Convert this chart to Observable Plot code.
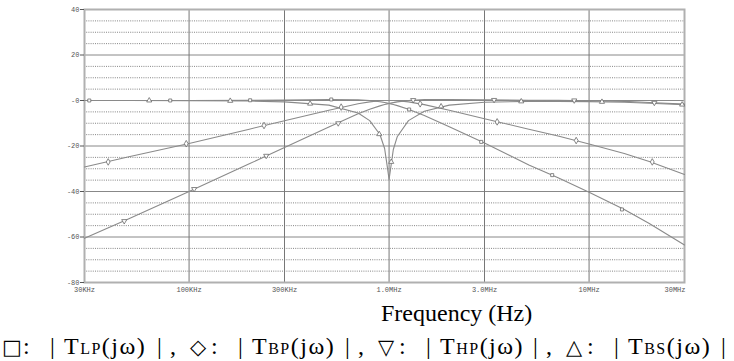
<!DOCTYPE html>
<html><head><meta charset="utf-8">
<script src="https://cdn.jsdelivr.net/npm/d3@7"></script>
<script src="https://cdn.jsdelivr.net/npm/@observablehq/plot@0.6"></script>
<style>
body{margin:0;background:#fff;position:relative;width:734px;height:361px;overflow:hidden;}
#chart svg{display:block;}
.cap{position:absolute;font-family:"Liberation Serif","Times New Roman",serif;color:#000;white-space:nowrap;font-size:24px;line-height:24px;}
.cap .s{font-size:16px;}
.sym{font-family:"DejaVu Sans",sans-serif;font-size:21px;}
</style></head>
<body>
<div id="chart"></div>
<div id="freq" class="cap" style="left:381px;top:301px;">Frequency (Hz)</div>
<div id="legend"></div>
<script>
// frequency samples (Hz) and magnitudes (dB)
const freqs = [30e3, 50e3, 100e3, 200e3, 300e3, 500e3, 700e3, 800e3, 900e3, 950e3, 980e3, 1e6, 1.02e6, 1.05e6, 1.1e6, 1.25e6, 1.5e6, 2e6, 3e6, 5e6, 7e6, 10e6, 15e6, 20e6, 30e6];
const lpDb = [0, 0, 0.03, 0.11, 0.22, 0.45, 0.35, 0.02, -0.54, -0.9, -1.14, -1.31, -1.49, -1.76, -2.25, -3.85, -6.63, -11.59, -18.7, -28.3, -34.0, -40.3, -47.9, -54.1, -63.5];
const bpDb = [-29.2, -24.7, -18.9, -12.6, -8.9, -4.3, -1.4, -0.6, -0.14, -0.03, 0, 0, 0, -0.03, -0.12, -0.61, -1.8, -4.26, -8.0, -12.6, -15.6, -19.1, -23.3, -26.8, -32.5];
const hpDb = [-60.6, -52.0, -40.0, -27.85, -20.7, -11.6, -5.85, -3.85, -2.37, -1.79, -1.49, -1.31, -1.15, -0.92, -0.6, 0.02, 0.41, 0.45, 0.27, 0.11, 0.05, -0.1, -0.4, -0.9, -1.6];
const bsDb = [0, 0, -0.06, -0.25, -0.6, -2.04, -5.5, -8.85, -14.96, -21.1, -29.2, -34.7, -29.4, -21.55, -15.8, -8.85, -4.69, -2.04, -0.76, -0.4, -0.4, -0.5, -0.8, -1.2, -1.8];

// marker positions
const lpMarkF = [31.7e3, 80.5e3, 202e3, 514e3, 1.26e6, 2.89e6, 6.54e6, 14.6e6];
const lpMarkDb = [0, 0, 0.1, 0.45, -3.95, -18.2, -32.8, -47.9];
const bpMarkF = [39.4e3, 96.8e3, 237e3, 576e3, 1.43e6, 3.47e6, 8.62e6, 20.7e6];
const bpMarkDb = [-27.0, -19.0, -11.0, -2.9, -1.45, -9.4, -17.6, -27.0];
const hpMarkF = [47.4e3, 106e3, 243e3, 557e3, 1.32e6, 3.35e6, 8.43e6, 21.2e6];
const hpMarkDb = [-53.0, -38.9, -24.3, -10.0, 0.2, 0.25, 0.05, -1.0];
const bsMarkF = [63.2e3, 160.6e3, 403e3, 893e3, 1.025e6, 1.82e6, 4.58e6, 11.6e6, 29.2e6];
const bsMarkDb = [0, -0.16, -1.4, -14.8, -27.0, -2.6, -0.4, -0.6, -1.8];

// axes
const xTicks = [30e3, 100e3, 300e3, 1e6, 3e6, 10e6, 30e6];
const xTickLabels = ["30KHz", "100KHz", "300KHz", "1.0MHz", "3.0MHz", "10MHz", "30MHz"];
const yMajor = [-80, -60, -40, -20, 0, 20, 40];
const yMinor = [-75, -70, -65, -55, -50, -45, -35, -30, -25, -15, -10, -5, 5, 10, 15, 25, 30, 35];
const yTickLabels = ["-80", "-60", "-40", "-20", "-0", "20", "40"];

// legend
const legendSymbols = ["□", "◇", "▽", "△"];
const legendSubs = ["LP", "BP", "HP", "BS"];

const seriesDb = [lpDb, bpDb, hpDb, bsDb];
const lines = [];
legendSubs.forEach((s, k) => freqs.forEach((f, i) => lines.push({series: s, f, db: seriesDb[k][i]})));
const mk = (F, D) => F.map((f, i) => ({f, db: D[i]}));

const yFmt = d => yTickLabels[yMajor.indexOf(d)];
const xFmt = d => xTickLabels[xTicks.indexOf(d)];
const markStroke = "#6a6a6a";
const dotOpts = {x: "f", y: "db", fill: "white", stroke: markStroke, strokeWidth: 0.8};
const labelColor = "#555";

const chart = Plot.plot({
  width: 734,
  height: 296,
  marginLeft: 84,
  marginRight: 50,
  marginTop: 9,
  marginBottom: 14,
  style: {fontFamily: "'Liberation Mono', 'DejaVu Sans Mono', monospace", fontSize: "7px", background: "#fff"},
  x: {type: "log", domain: [30e3, 30e6], axis: null},
  y: {domain: [-80, 40], axis: null},
  marks: [
    Plot.ruleY(yMinor, {stroke: "#666", strokeWidth: 0.8, strokeDasharray: "1,1.2"}),
    Plot.ruleY(yMajor, {stroke: "#888", strokeWidth: 1}),
    Plot.ruleX(xTicks, {stroke: "#777", strokeWidth: 1}),
    Plot.frame({stroke: "#b0b0b0", strokeWidth: 2}),
    Plot.line(lines, {x: "f", y: "db", z: "series", stroke: "#8a8a8a", strokeWidth: 1.1}),
    Plot.dot(mk(lpMarkF, lpMarkDb), {...dotOpts, symbol: "square", r: 1.7}),
    Plot.dot(mk(bpMarkF, bpMarkDb), {...dotOpts, symbol: "diamond", r: 2}),
    Plot.dot(mk(hpMarkF, hpMarkDb), {...dotOpts, symbol: "triangle", rotate: 180, r: 1.9}),
    Plot.dot(mk(bsMarkF, bsMarkDb), {...dotOpts, symbol: "triangle", r: 1.9}),
    Plot.axisY(yMajor, {tickSize: 4, tickPadding: 1, tickFormat: yFmt, color: labelColor, label: null}),
    Plot.text(xTicks.slice(0, -1), {x: d => d, text: xFmt, frameAnchor: "bottom", dy: 9.5, fill: labelColor}),
    Plot.text(xTicks.slice(-1), {x: d => d, text: xFmt, frameAnchor: "bottom", dy: 9.5, textAnchor: "end", dx: 1, fill: labelColor})
  ]
});
document.getElementById("chart").appendChild(chart);

// legend line (text pieces laid out along the bottom row)
const groupStarts = [2, 190, 378, 566];
const legendTop = 334;
const legendEl = document.getElementById("legend");
legendSymbols.forEach((sym, i) => {
  const g = groupStarts[i];
  const parts = [
    [g, `<span class="sym">${sym}</span>`],
    [g + 21, ":"],
    [g + 48, "|"],
    [g + 62, `<span style="letter-spacing:1.5px">T<span class="s">${legendSubs[i]}</span>(jω)</span>`],
    [g + 155, "|"]
  ];
  if (i < legendSymbols.length - 1) parts.push([g + 168, ","]);
  parts.forEach(([x, html]) => {
    const d = document.createElement("div");
    d.className = "cap";
    d.style.left = x + "px";
    d.style.top = legendTop + "px";
    d.innerHTML = html;
    legendEl.appendChild(d);
  });
});
</script>
</body></html>
